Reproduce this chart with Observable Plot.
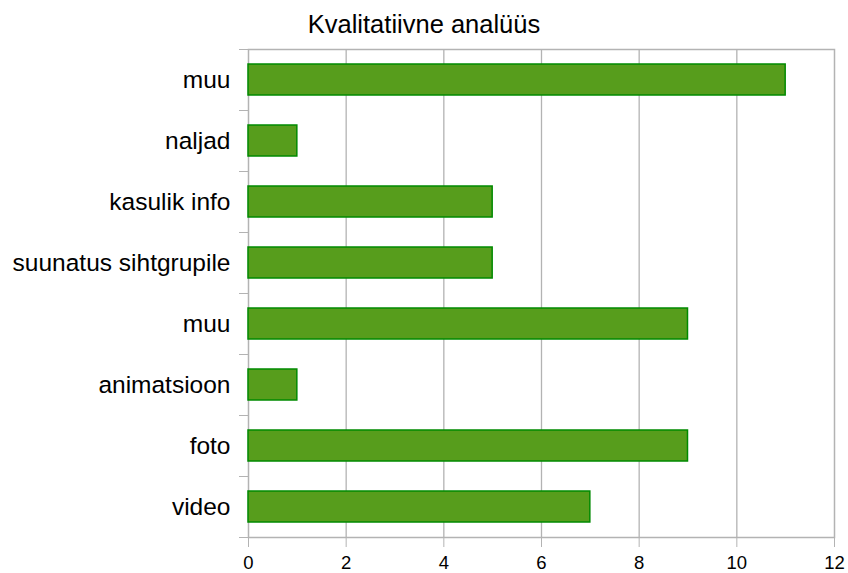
<!DOCTYPE html>
<html>
<head>
<meta charset="utf-8">
<script src="https://cdn.jsdelivr.net/npm/d3@7"></script>
<script src="https://cdn.jsdelivr.net/npm/@observablehq/plot@0.6"></script>
<style>
  html, body { margin: 0; padding: 0; background: #fff; }
  #title { position: relative; width: 848px; height: 40px; font-family: "Liberation Sans", Arial, sans-serif; font-size: 25.5px; color: #000; }
  #title span { position: absolute; left: 424px; top: 32px; transform: translate(-50%, -80%); white-space: nowrap; line-height: 1; }
</style>
</head>
<body>
<div id="title"><span>Kvalitatiivne analüüs</span></div>
<div id="chart"></div>
<script>
const categories = ["muu", "naljad", "kasulik info", "suunatus sihtgrupile", "muu", "animatsioon", "foto", "video"];
const values = [11, 1, 5, 5, 9, 1, 9, 7];
const xTicks = [0, 2, 4, 6, 8, 10, 12];

const data = categories.map((c, i) => ({i, c, v: values[i]}));
const grid = "#b3b3b3";

const chart = Plot.plot({
  width: 848,
  height: 533,
  marginTop: 9,
  marginBottom: 36,
  marginLeft: 248,
  marginRight: 14,
  style: {fontFamily: "'Liberation Sans', Arial, sans-serif", fontSize: "20px", color: "#000", background: "#fff"},
  x: {domain: [0, 12], ticks: xTicks},
  y: {domain: [0, categories.length], reverse: true},
  marks: [
    Plot.ruleX(xTicks.slice(1, -1), {stroke: grid, strokeWidth: 1.3}),
    Plot.frame({stroke: grid, strokeWidth: 1.5}),
    Plot.axisX({ticks: xTicks, tickSize: 10, tickPadding: 8, stroke: grid, strokeOpacity: 1, fontSize: 18.5, label: null, tickFormat: d => String(d)}),
    Plot.axisY({ticks: d3.range(categories.length + 1), tickSize: 9, stroke: grid, strokeOpacity: 1, tickFormat: () => "", label: null}),
    Plot.axisY({ticks: d3.range(categories.length).map(d => d + 0.5), tickSize: 0, tickPadding: 18, fontSize: 24.5, tickFormat: d => categories[Math.floor(d)], label: null}),
    Plot.rectX(data, {x1: 0, x2: "v", y1: "i", y2: d => d.i + 1, insetTop: 15, insetBottom: 15, fill: "#579d1c", stroke: "#008a00", strokeWidth: 1.5})
  ]
});
document.getElementById("chart").appendChild(chart);
</script>
</body>
</html>
